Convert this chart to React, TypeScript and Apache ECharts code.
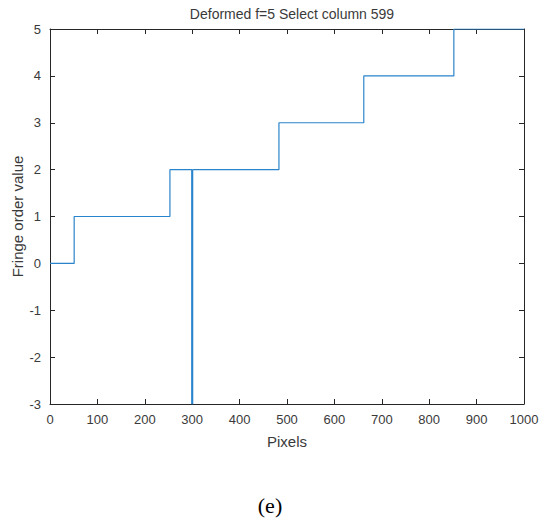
import React, { useEffect, useRef } from "react";
import * as echarts from "echarts";

const stepX = [0, 51, 253, 299, 301, 483, 662, 852, 1000];
const stepY = [0, 1, 2, -3, 2, 3, 4, 5, 5];
const chartTitle = "Deformed f=5 Select column 599";
const xName = "Pixels";
const yName = "Fringe order value";
const caption = "(e)";

export default function App() {
  const ref = useRef<HTMLDivElement>(null);
  useEffect(() => {
    if (!ref.current) return;
    const chart = echarts.init(ref.current, null, { renderer: "svg" });
    const axisColor = "#262626";
    const textColor = "#3a3a3a";
    const font = "Liberation Sans, Arial, sans-serif";
    const commonX = {
      type: "value",
      min: 0,
      max: 1000,
      interval: 100,
      axisLine: { show: true, onZero: false, lineStyle: { color: axisColor, width: 1 } },
      axisTick: { show: true, inside: true, length: 5, lineStyle: { color: axisColor } },
      splitLine: { show: false },
    };
    const commonY = {
      type: "value",
      min: -3,
      max: 5,
      interval: 1,
      axisLine: { show: true, onZero: false, lineStyle: { color: axisColor, width: 1 } },
      axisTick: { show: true, inside: true, length: 5, lineStyle: { color: axisColor } },
      splitLine: { show: false },
    };
    chart.setOption({
      animation: false,
      backgroundColor: "#ffffff",
      title: {
        text: chartTitle,
        left: 287,
        textAlign: "center",
        top: 2,
        textStyle: { fontFamily: font, fontSize: 14, fontWeight: "normal", color: textColor },
      },
      grid: {
        left: 50,
        right: 16,
        top: 29,
        bottom: 121,
        containLabel: false,
        outerBoundsMode: "none",
      },
      xAxis: [
        {
          ...commonX,
          position: "bottom",
          name: xName,
          nameLocation: "middle",
          nameGap: 30,
          nameMoveOverlap: false,
          nameTextStyle: { fontFamily: font, fontSize: 15, color: textColor },
          axisLabel: {
            fontFamily: font,
            fontSize: 13,
            color: textColor,
            margin: 9,
            formatter: (v: number) => String(v),
          },
        },
        {
          ...commonX,
          position: "top",
          axisLabel: { show: false },
        },
      ],
      yAxis: [
        {
          ...commonY,
          position: "left",
          name: yName,
          nameLocation: "middle",
          nameGap: 25,
          nameRotate: 90,
          nameMoveOverlap: false,
          nameTextStyle: { fontFamily: font, fontSize: 15, color: textColor },
          axisLabel: { fontFamily: font, fontSize: 13, color: textColor, margin: 9 },
        },
        {
          ...commonY,
          position: "right",
          axisLabel: { show: false },
        },
      ],
      series: [
        {
          type: "line",
          step: "end",
          xAxisIndex: 0,
          yAxisIndex: 0,
          data: stepX.map((x, i) => [x, stepY[i]]),
          showSymbol: false,
          lineStyle: { color: "#2a84cc", width: 1.2 },
          clip: true,
        },
      ],
      graphic: [
        {
          type: "text",
          left: "center",
          top: 494,
          style: {
            text: caption,
            font: "22px 'Liberation Serif', 'Times New Roman', serif",
            fill: "#000000",
          },
        },
      ],
    });
    return () => chart.dispose();
  }, []);
  return (
    <div
      ref={ref}
      style={{ position: "fixed", left: 0, top: 0, width: 540, height: 525 }}
    />
  );
}
